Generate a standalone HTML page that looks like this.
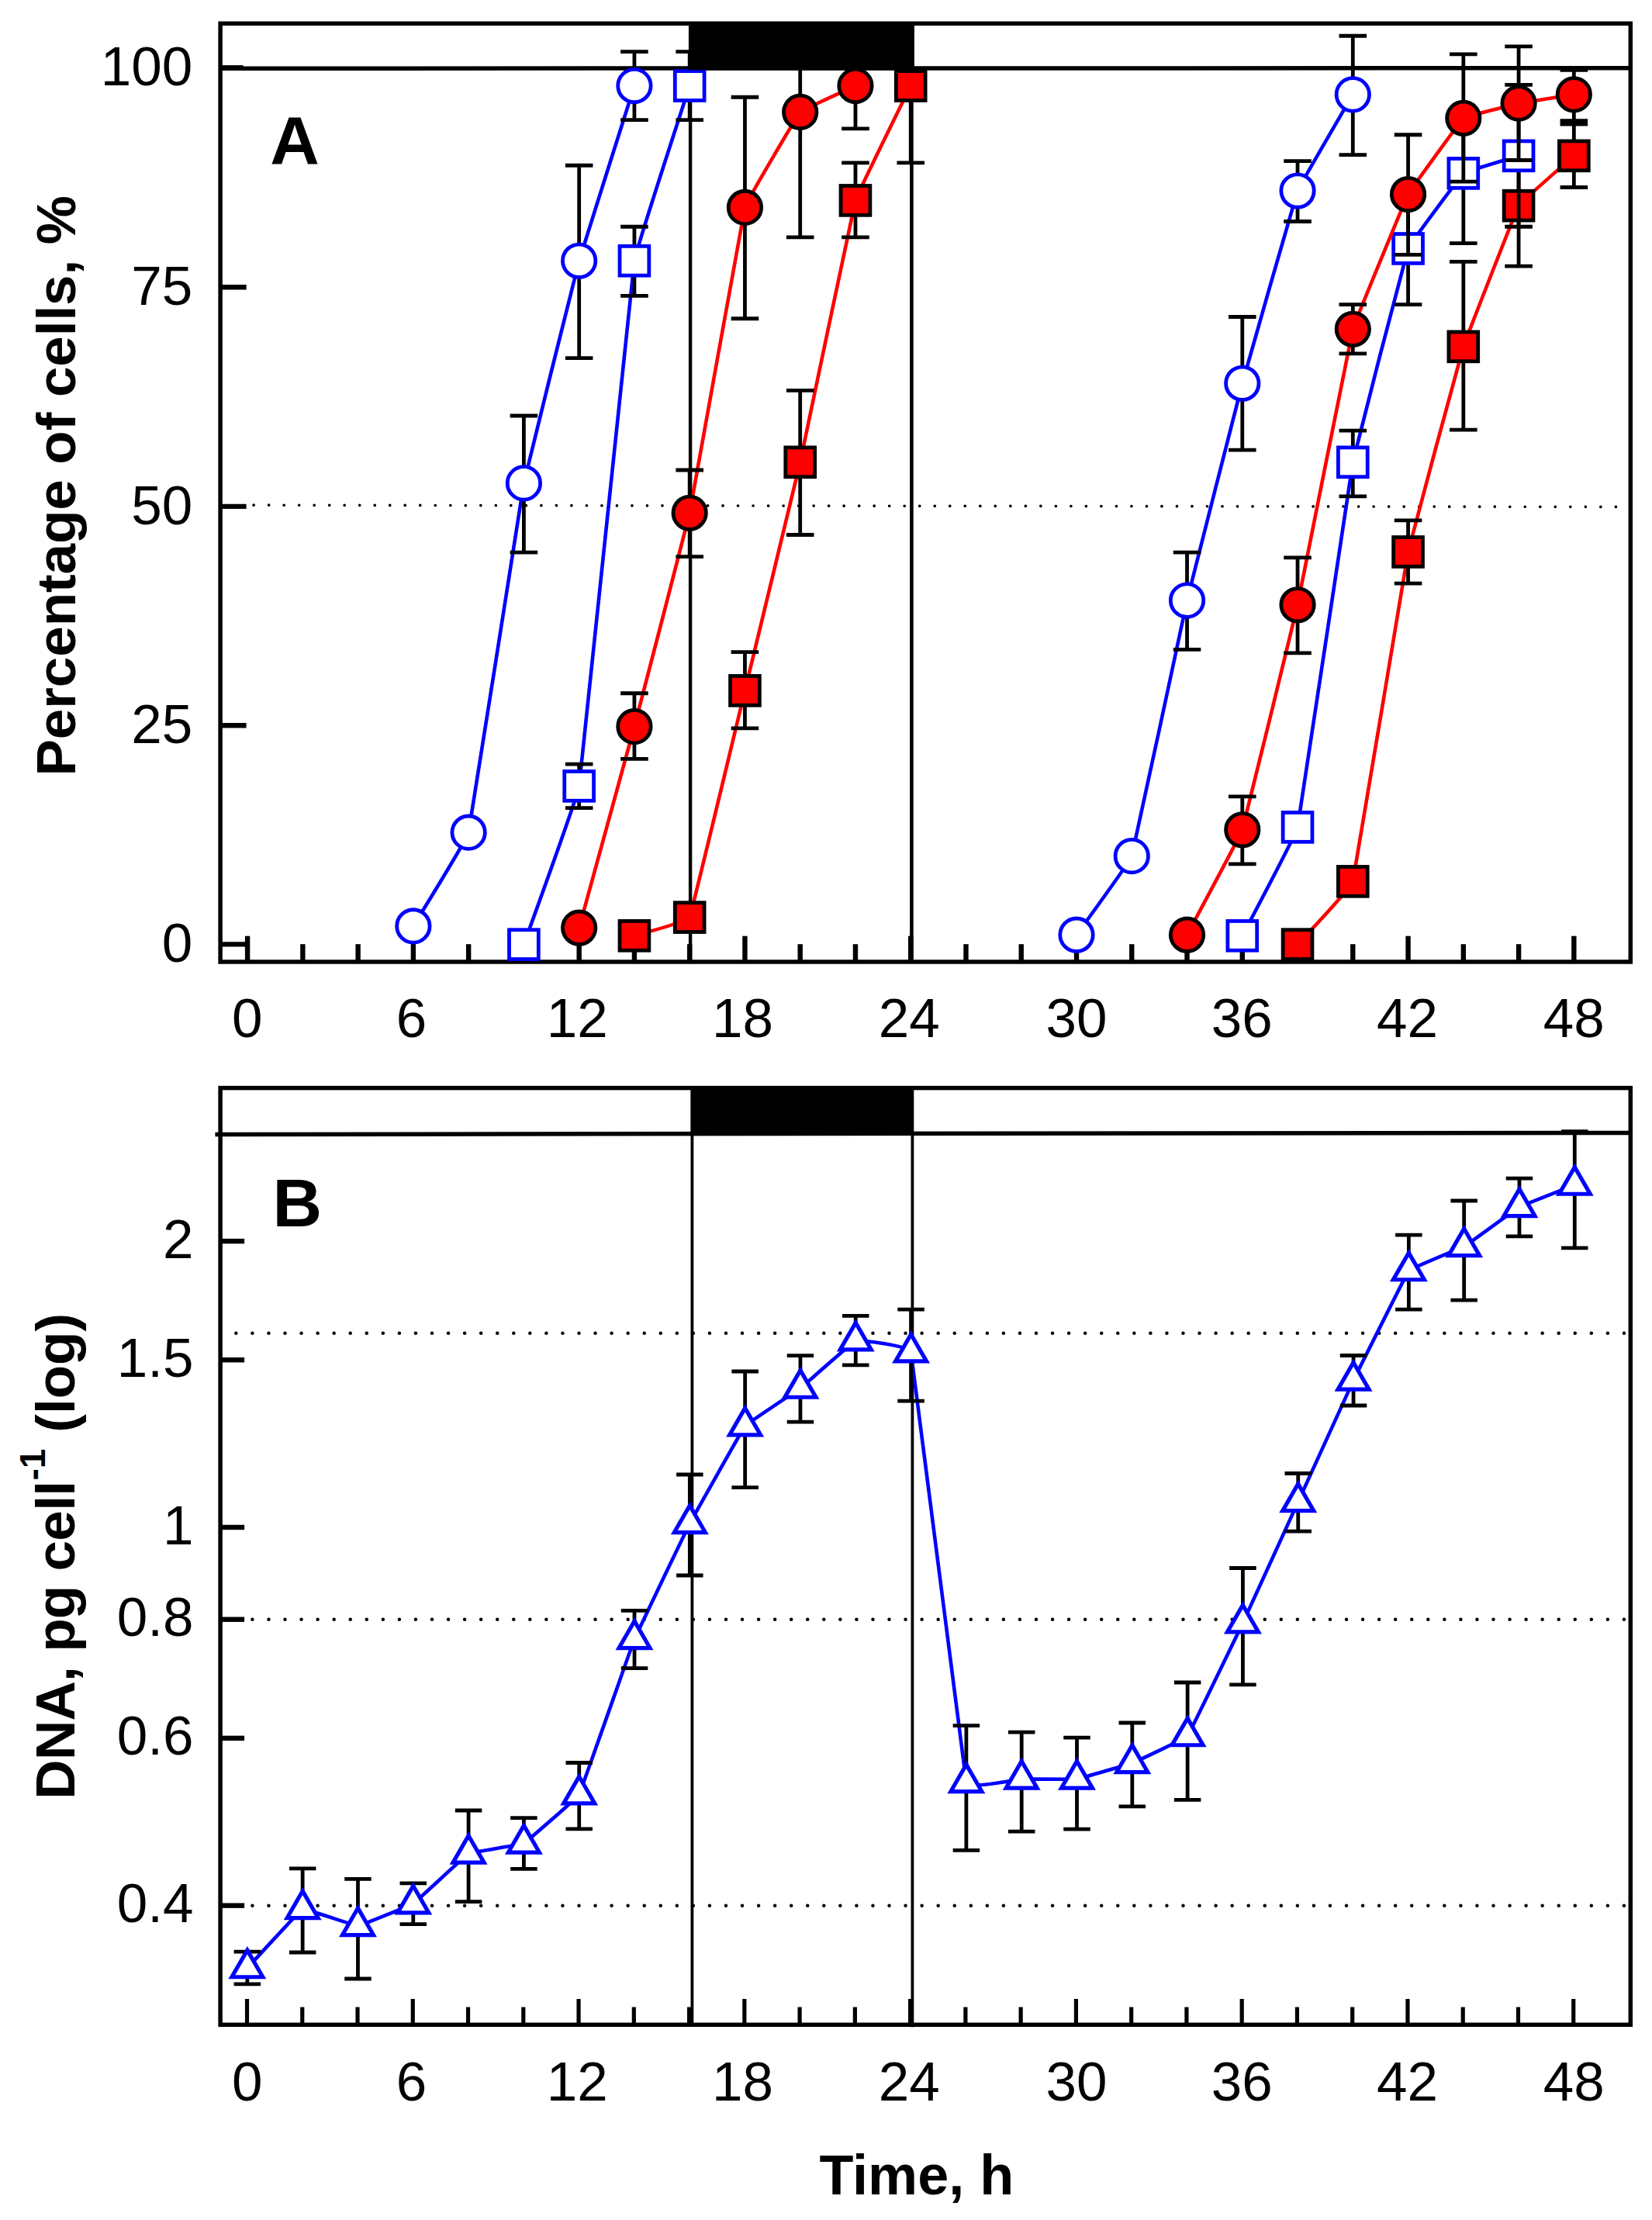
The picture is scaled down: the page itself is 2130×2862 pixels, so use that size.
<!DOCTYPE html>
<html lang="en"><head><meta charset="utf-8"><title>Cell cycle figure</title>
<style>html,body{margin:0;padding:0;background:#fff}body{width:2130px;height:2862px;overflow:hidden}svg{display:block}text{font-family:'Liberation Sans', Arial, Helvetica, sans-serif;fill:#000}</style>
</head><body>
<svg width="2130" height="2862" viewBox="0 0 2130 2862" role="img" aria-label="Cell cycle progression and DNA content over time">
<rect x="0" y="0" width="2130" height="2862" fill="#fff"/>
<defs><clipPath id="clipA"><rect x="284.1" y="30.3" width="1818.2" height="1219.7"/></clipPath></defs>
<g id="panelA">
<line x1="327.1" y1="651.2" x2="2083.5" y2="653.4" stroke="#000" stroke-width="3.7" stroke-linecap="round" stroke-dasharray="0.01 19.504"/>
<line x1="890.1" y1="30.3" x2="890.1" y2="1240" stroke="#000" stroke-width="4.4"/>
<line x1="1175.4" y1="30.3" x2="1175.4" y2="1240" stroke="#000" stroke-width="4.6"/>
<line x1="284.1" y1="88.2" x2="2102.3" y2="87.8" stroke="#000" stroke-width="5.5"/>
<line x1="319.1" y1="1240" x2="319.1" y2="1206.7" stroke="#000" stroke-width="6.4"/>
<line x1="390.36" y1="1240" x2="390.36" y2="1217.2" stroke="#000" stroke-width="6.4"/>
<line x1="461.62" y1="1240" x2="461.62" y2="1217.2" stroke="#000" stroke-width="6.4"/>
<line x1="532.88" y1="1240" x2="532.88" y2="1206.7" stroke="#000" stroke-width="6.4"/>
<line x1="604.14" y1="1240" x2="604.14" y2="1217.2" stroke="#000" stroke-width="6.4"/>
<line x1="675.4" y1="1240" x2="675.4" y2="1217.2" stroke="#000" stroke-width="6.4"/>
<line x1="746.66" y1="1240" x2="746.66" y2="1206.7" stroke="#000" stroke-width="6.4"/>
<line x1="817.92" y1="1240" x2="817.92" y2="1217.2" stroke="#000" stroke-width="6.4"/>
<line x1="889.18" y1="1240" x2="889.18" y2="1217.2" stroke="#000" stroke-width="6.4"/>
<line x1="960.44" y1="1240" x2="960.44" y2="1206.7" stroke="#000" stroke-width="6.4"/>
<line x1="1031.7" y1="1240" x2="1031.7" y2="1217.2" stroke="#000" stroke-width="6.4"/>
<line x1="1102.96" y1="1240" x2="1102.96" y2="1217.2" stroke="#000" stroke-width="6.4"/>
<line x1="1174.22" y1="1240" x2="1174.22" y2="1206.7" stroke="#000" stroke-width="6.4"/>
<line x1="1245.48" y1="1240" x2="1245.48" y2="1217.2" stroke="#000" stroke-width="6.4"/>
<line x1="1316.74" y1="1240" x2="1316.74" y2="1217.2" stroke="#000" stroke-width="6.4"/>
<line x1="1388" y1="1240" x2="1388" y2="1206.7" stroke="#000" stroke-width="6.4"/>
<line x1="1459.26" y1="1240" x2="1459.26" y2="1217.2" stroke="#000" stroke-width="6.4"/>
<line x1="1530.52" y1="1240" x2="1530.52" y2="1217.2" stroke="#000" stroke-width="6.4"/>
<line x1="1601.78" y1="1240" x2="1601.78" y2="1206.7" stroke="#000" stroke-width="6.4"/>
<line x1="1673.04" y1="1240" x2="1673.04" y2="1217.2" stroke="#000" stroke-width="6.4"/>
<line x1="1744.3" y1="1240" x2="1744.3" y2="1217.2" stroke="#000" stroke-width="6.4"/>
<line x1="1815.56" y1="1240" x2="1815.56" y2="1206.7" stroke="#000" stroke-width="6.4"/>
<line x1="1886.82" y1="1240" x2="1886.82" y2="1217.2" stroke="#000" stroke-width="6.4"/>
<line x1="1958.08" y1="1240" x2="1958.08" y2="1217.2" stroke="#000" stroke-width="6.4"/>
<line x1="2029.34" y1="1240" x2="2029.34" y2="1206.7" stroke="#000" stroke-width="6.4"/>
<line x1="284.1" y1="1217.4" x2="317.6" y2="1217.4" stroke="#000" stroke-width="6.4"/>
<line x1="284.1" y1="935.3" x2="317.6" y2="935.3" stroke="#000" stroke-width="6.4"/>
<line x1="284.1" y1="652.9" x2="317.6" y2="652.9" stroke="#000" stroke-width="6.4"/>
<line x1="284.1" y1="370.2" x2="317.6" y2="370.2" stroke="#000" stroke-width="6.4"/>
<line x1="284.1" y1="87.3" x2="313.6" y2="87.3" stroke="#000" stroke-width="6.4"/>
<rect x="284.1" y="30.3" width="1818.2" height="1209.7" fill="none" stroke="#000" stroke-width="5.5"/>
<g clip-path="url(#clipA)">
<path d="M817.92 1206.34 C819.11 1205.95 886.8 1187.91 889.18 1182.64 C891.56 1177.38 958.06 900.14 960.44 890.36 C962.82 880.58 1029.32 606.36 1031.7 595.83 C1034.08 585.29 1100.58 266.49 1102.96 258.4 C1105.34 250.32 1173.03 113.03 1174.22 110.57" stroke="#ff0000" stroke-width="4.6" fill="none"/>
<path d="M960.44 840.71V938.89 M942.64 840.71H978.24 M942.64 938.89H978.24" stroke="#000" stroke-width="4.8" fill="none"/>
<path d="M1031.7 503.29V689.49 M1013.9 503.29H1049.5 M1013.9 689.49H1049.5" stroke="#000" stroke-width="4.8" fill="none"/>
<path d="M1102.96 209.88V305.8 M1085.16 209.88H1120.76 M1085.16 305.8H1120.76" stroke="#000" stroke-width="4.8" fill="none"/>
<path d="M1174.22 11.26V209.88 M1156.42 11.26H1192.02 M1156.42 209.88H1192.02" stroke="#000" stroke-width="4.8" fill="none"/>
<rect x="799.02" y="1187.44" width="37.8" height="37.8" fill="#ff0000" stroke="#000" stroke-width="4.8"/>
<rect x="870.28" y="1163.74" width="37.8" height="37.8" fill="#ff0000" stroke="#000" stroke-width="4.8"/>
<rect x="941.54" y="871.46" width="37.8" height="37.8" fill="#ff0000" stroke="#000" stroke-width="4.8"/>
<rect x="1012.8" y="576.93" width="37.8" height="37.8" fill="#ff0000" stroke="#000" stroke-width="4.8"/>
<rect x="1084.06" y="239.5" width="37.8" height="37.8" fill="#ff0000" stroke="#000" stroke-width="4.8"/>
<rect x="1155.32" y="91.67" width="37.8" height="37.8" fill="#ff0000" stroke="#000" stroke-width="4.8"/>
<path d="M1673.04 1217.63 C1674.23 1216.27 1741.92 1144.81 1744.3 1136.38 C1746.68 1127.94 1813.18 722.99 1815.56 711.5 C1817.94 700 1884.44 454.3 1886.82 446.86 C1889.2 439.42 1955.7 269.27 1958.08 265.17 C1960.46 261.07 2028.15 201.92 2029.34 200.85" stroke="#ff0000" stroke-width="4.6" fill="none"/>
<path d="M1815.56 670.87V752.12 M1797.76 670.87H1833.36 M1797.76 752.12H1833.36" stroke="#000" stroke-width="4.8" fill="none"/>
<path d="M1886.82 337.4V554.07 M1869.02 337.4H1904.62 M1869.02 554.07H1904.62" stroke="#000" stroke-width="4.8" fill="none"/>
<path d="M1958.08 187.31V343.04 M1940.28 187.31H1975.88 M1940.28 343.04H1975.88" stroke="#000" stroke-width="4.8" fill="none"/>
<path d="M2029.34 160.22V241.48 M2011.54 160.22H2047.14 M2011.54 241.48H2047.14" stroke="#000" stroke-width="4.8" fill="none"/>
<rect x="1654.14" y="1198.73" width="37.8" height="37.8" fill="#ff0000" stroke="#000" stroke-width="4.8"/>
<rect x="1725.4" y="1117.48" width="37.8" height="37.8" fill="#ff0000" stroke="#000" stroke-width="4.8"/>
<rect x="1796.66" y="692.6" width="37.8" height="37.8" fill="#ff0000" stroke="#000" stroke-width="4.8"/>
<rect x="1867.92" y="427.96" width="37.8" height="37.8" fill="#ff0000" stroke="#000" stroke-width="4.8"/>
<rect x="1939.18" y="246.27" width="37.8" height="37.8" fill="#ff0000" stroke="#000" stroke-width="4.8"/>
<rect x="2010.44" y="181.95" width="37.8" height="37.8" fill="#ff0000" stroke="#000" stroke-width="4.8"/>
<path d="M532.88 1193.93 C534.07 1191.92 601.76 1082.7 604.14 1073.18 C606.52 1063.66 673.02 635.19 675.4 622.91 C677.78 610.63 744.28 344.81 746.66 336.27 C749.04 327.73 816.73 114.33 817.92 110.57" stroke="#0000ff" stroke-width="4.6" fill="none"/>
<path d="M675.4 536.01V712.06 M657.6 536.01H693.2 M657.6 712.06H693.2" stroke="#000" stroke-width="4.8" fill="none"/>
<path d="M746.66 213.26V461.53 M728.86 213.26H764.46 M728.86 461.53H764.46" stroke="#000" stroke-width="4.8" fill="none"/>
<path d="M817.92 66.56V154.58 M800.12 66.56H835.72 M800.12 154.58H835.72" stroke="#000" stroke-width="4.8" fill="none"/>
<circle cx="532.88" cy="1193.93" r="21.2" fill="#fff" stroke="#0000ff" stroke-width="4.8"/>
<circle cx="604.14" cy="1073.18" r="21.2" fill="#fff" stroke="#0000ff" stroke-width="4.8"/>
<circle cx="675.4" cy="622.91" r="21.2" fill="#fff" stroke="#0000ff" stroke-width="4.8"/>
<circle cx="746.66" cy="336.27" r="21.2" fill="#fff" stroke="#0000ff" stroke-width="4.8"/>
<circle cx="817.92" cy="110.57" r="21.2" fill="#fff" stroke="#0000ff" stroke-width="4.8"/>
<path d="M1388 1205.21 C1389.19 1203.52 1456.88 1110.83 1459.26 1103.65 C1461.64 1096.47 1528.14 784.28 1530.52 774.13 C1532.9 763.97 1599.4 503.06 1601.78 494.26 C1604.16 485.46 1670.66 252.2 1673.04 245.99 C1675.42 239.78 1743.11 123.92 1744.3 121.86" stroke="#0000ff" stroke-width="4.6" fill="none"/>
<path d="M1530.52 712.06V837.32 M1512.72 712.06H1548.32 M1512.72 837.32H1548.32" stroke="#000" stroke-width="4.8" fill="none"/>
<path d="M1601.78 408.49V580.03 M1583.98 408.49H1619.58 M1583.98 580.03H1619.58" stroke="#000" stroke-width="4.8" fill="none"/>
<path d="M1673.04 207.62V285.49 M1655.24 207.62H1690.84 M1655.24 285.49H1690.84" stroke="#000" stroke-width="4.8" fill="none"/>
<path d="M1744.3 46.25V199.72 M1726.5 46.25H1762.1 M1726.5 199.72H1762.1" stroke="#000" stroke-width="4.8" fill="none"/>
<circle cx="1388" cy="1205.21" r="21.2" fill="#fff" stroke="#0000ff" stroke-width="4.8"/>
<circle cx="1459.26" cy="1103.65" r="21.2" fill="#fff" stroke="#0000ff" stroke-width="4.8"/>
<circle cx="1530.52" cy="774.13" r="21.2" fill="#fff" stroke="#0000ff" stroke-width="4.8"/>
<circle cx="1601.78" cy="494.26" r="21.2" fill="#fff" stroke="#0000ff" stroke-width="4.8"/>
<circle cx="1673.04" cy="245.99" r="21.2" fill="#fff" stroke="#0000ff" stroke-width="4.8"/>
<circle cx="1744.3" cy="121.86" r="21.2" fill="#fff" stroke="#0000ff" stroke-width="4.8"/>
<path d="M675.4 1217.63 C676.59 1214.22 744.28 1028.06 746.66 1013.37 C749.04 998.68 815.54 351.32 817.92 336.27 C820.3 321.22 887.99 114.33 889.18 110.57" stroke="#0000ff" stroke-width="4.6" fill="none"/>
<path d="M746.66 985.16V1041.58 M728.86 985.16H764.46 M728.86 1041.58H764.46" stroke="#000" stroke-width="4.8" fill="none"/>
<path d="M817.92 292.26V381.41 M800.12 292.26H835.72 M800.12 381.41H835.72" stroke="#000" stroke-width="4.8" fill="none"/>
<path d="M889.18 66.56V154.58 M871.38 66.56H906.98 M871.38 154.58H906.98" stroke="#000" stroke-width="4.8" fill="none"/>
<rect x="656.5" y="1198.73" width="37.8" height="37.8" fill="#fff" stroke="#0000ff" stroke-width="4.8"/>
<rect x="727.76" y="994.47" width="37.8" height="37.8" fill="#fff" stroke="#0000ff" stroke-width="4.8"/>
<rect x="799.02" y="317.37" width="37.8" height="37.8" fill="#fff" stroke="#0000ff" stroke-width="4.8"/>
<rect x="870.28" y="91.67" width="37.8" height="37.8" fill="#fff" stroke="#0000ff" stroke-width="4.8"/>
<path d="M1601.78 1206.34 C1602.97 1204.01 1670.66 1076.58 1673.04 1066.41 C1675.42 1056.23 1741.92 608.26 1744.3 595.83 C1746.68 583.39 1813.18 326.68 1815.56 320.47 C1817.94 314.26 1884.44 225.41 1886.82 223.42 C1889.2 221.43 1956.89 201.23 1958.08 200.85" stroke="#0000ff" stroke-width="4.6" fill="none"/>
<path d="M1744.3 555.2V639.84 M1726.5 555.2H1762.1 M1726.5 639.84H1762.1" stroke="#000" stroke-width="4.8" fill="none"/>
<path d="M1815.56 249.38V392.69 M1797.76 249.38H1833.36 M1797.76 392.69H1833.36" stroke="#000" stroke-width="4.8" fill="none"/>
<path d="M1886.82 144.42V313.7 M1869.02 144.42H1904.62 M1869.02 313.7H1904.62" stroke="#000" stroke-width="4.8" fill="none"/>
<path d="M1958.08 109.44V292.26 M1940.28 109.44H1975.88 M1940.28 292.26H1975.88" stroke="#000" stroke-width="4.8" fill="none"/>
<rect x="1582.88" y="1187.44" width="37.8" height="37.8" fill="#fff" stroke="#0000ff" stroke-width="4.8"/>
<rect x="1654.14" y="1047.51" width="37.8" height="37.8" fill="#fff" stroke="#0000ff" stroke-width="4.8"/>
<rect x="1725.4" y="576.93" width="37.8" height="37.8" fill="#fff" stroke="#0000ff" stroke-width="4.8"/>
<rect x="1796.66" y="301.57" width="37.8" height="37.8" fill="#fff" stroke="#0000ff" stroke-width="4.8"/>
<rect x="1867.92" y="204.52" width="37.8" height="37.8" fill="#fff" stroke="#0000ff" stroke-width="4.8"/>
<rect x="1939.18" y="181.95" width="37.8" height="37.8" fill="#fff" stroke="#0000ff" stroke-width="4.8"/>
<path d="M746.66 1196.19 C747.85 1191.86 815.54 945.55 817.92 936.63 C820.3 927.72 886.8 672.43 889.18 661.28 C891.56 650.12 958.06 276.05 960.44 267.43 C962.82 258.82 1029.32 147.04 1031.7 144.42 C1034.08 141.81 1101.77 111.13 1102.96 110.57" stroke="#ff0000" stroke-width="4.6" fill="none"/>
<path d="M817.92 893.75V978.39 M800.12 893.75H835.72 M800.12 978.39H835.72" stroke="#000" stroke-width="4.8" fill="none"/>
<path d="M889.18 605.98V717.7 M871.38 605.98H906.98 M871.38 717.7H906.98" stroke="#000" stroke-width="4.8" fill="none"/>
<path d="M960.44 125.24V410.75 M942.64 125.24H978.24 M942.64 410.75H978.24" stroke="#000" stroke-width="4.8" fill="none"/>
<path d="M1031.7 -16.95V305.8 M1013.9 -16.95H1049.5 M1013.9 305.8H1049.5" stroke="#000" stroke-width="4.8" fill="none"/>
<path d="M1102.96 55.27V165.87 M1085.16 55.27H1120.76 M1085.16 165.87H1120.76" stroke="#000" stroke-width="4.8" fill="none"/>
<circle cx="746.66" cy="1196.19" r="21.2" fill="#ff0000" stroke="#000" stroke-width="4.8"/>
<circle cx="817.92" cy="936.63" r="21.2" fill="#ff0000" stroke="#000" stroke-width="4.8"/>
<circle cx="889.18" cy="661.28" r="21.2" fill="#ff0000" stroke="#000" stroke-width="4.8"/>
<circle cx="960.44" cy="267.43" r="21.2" fill="#ff0000" stroke="#000" stroke-width="4.8"/>
<circle cx="1031.7" cy="144.42" r="21.2" fill="#ff0000" stroke="#000" stroke-width="4.8"/>
<circle cx="1102.96" cy="110.57" r="21.2" fill="#ff0000" stroke="#000" stroke-width="4.8"/>
<path d="M1530.52 1205.21 C1531.71 1202.96 1599.4 1076.89 1601.78 1069.8 C1604.16 1062.7 1670.66 790.53 1673.04 779.77 C1675.42 769.01 1741.92 433.11 1744.3 424.29 C1746.68 415.47 1813.18 255.04 1815.56 250.5 C1817.94 245.97 1884.44 154.28 1886.82 152.32 C1889.2 150.37 1955.7 133.65 1958.08 133.14 C1960.46 132.63 2028.15 122.04 2029.34 121.86" stroke="#ff0000" stroke-width="4.6" fill="none"/>
<path d="M1601.78 1026.91V1113.81 M1583.98 1026.91H1619.58 M1583.98 1113.81H1619.58" stroke="#000" stroke-width="4.8" fill="none"/>
<path d="M1673.04 718.83V841.84 M1655.24 718.83H1690.84 M1655.24 841.84H1690.84" stroke="#000" stroke-width="4.8" fill="none"/>
<path d="M1744.3 392.69V455.89 M1726.5 392.69H1762.1 M1726.5 455.89H1762.1" stroke="#000" stroke-width="4.8" fill="none"/>
<path d="M1815.56 173.77V328.37 M1797.76 173.77H1833.36 M1797.76 328.37H1833.36" stroke="#000" stroke-width="4.8" fill="none"/>
<path d="M1886.82 69.94V234.14 M1869.02 69.94H1904.62 M1869.02 234.14H1904.62" stroke="#000" stroke-width="4.8" fill="none"/>
<path d="M1958.08 59.79V206.49 M1940.28 59.79H1975.88 M1940.28 206.49H1975.88" stroke="#000" stroke-width="4.8" fill="none"/>
<path d="M2029.34 90.26V155.71 M2011.54 90.26H2047.14 M2011.54 155.71H2047.14" stroke="#000" stroke-width="4.8" fill="none"/>
<circle cx="1530.52" cy="1205.21" r="21.2" fill="#ff0000" stroke="#000" stroke-width="4.8"/>
<circle cx="1601.78" cy="1069.8" r="21.2" fill="#ff0000" stroke="#000" stroke-width="4.8"/>
<circle cx="1673.04" cy="779.77" r="21.2" fill="#ff0000" stroke="#000" stroke-width="4.8"/>
<circle cx="1744.3" cy="424.29" r="21.2" fill="#ff0000" stroke="#000" stroke-width="4.8"/>
<circle cx="1815.56" cy="250.5" r="21.2" fill="#ff0000" stroke="#000" stroke-width="4.8"/>
<circle cx="1886.82" cy="152.32" r="21.2" fill="#ff0000" stroke="#000" stroke-width="4.8"/>
<circle cx="1958.08" cy="133.14" r="21.2" fill="#ff0000" stroke="#000" stroke-width="4.8"/>
<circle cx="2029.34" cy="121.86" r="21.2" fill="#ff0000" stroke="#000" stroke-width="4.8"/>
</g>
<rect x="888" y="30.3" width="290.9" height="60.1" fill="#000"/>
<text x="318.8" y="1337" font-size="71" text-anchor="middle">0</text>
<text x="530.58" y="1337" font-size="71" text-anchor="middle">6</text>
<text x="744.36" y="1337" font-size="71" text-anchor="middle">12</text>
<text x="957.54" y="1337" font-size="71" text-anchor="middle">18</text>
<text x="1172.22" y="1337" font-size="71" text-anchor="middle">24</text>
<text x="1388" y="1337" font-size="71" text-anchor="middle">30</text>
<text x="1601.18" y="1337" font-size="71" text-anchor="middle">36</text>
<text x="1814.56" y="1337" font-size="71" text-anchor="middle">42</text>
<text x="2029.34" y="1337" font-size="71" text-anchor="middle">48</text>
<text x="248.3" y="1240.4" font-size="71" text-anchor="end">0</text>
<text x="248.3" y="958.3" font-size="71" text-anchor="end">25</text>
<text x="248.3" y="675.9" font-size="71" text-anchor="end">50</text>
<text x="248.3" y="393.2" font-size="71" text-anchor="end">75</text>
<text x="248.3" y="110.3" font-size="71" text-anchor="end">100</text>
<text x="348.3" y="211" font-size="88" font-weight="bold">A</text>
<text transform="translate(97 1000.5) rotate(-90)" font-size="71" font-weight="bold" textLength="748.5" lengthAdjust="spacing">Percentage of cells, %</text>
</g>
<g id="panelB">
<line x1="304.34" y1="1718.87" x2="2098" y2="1718.87" stroke="#000" stroke-width="4.5" stroke-linecap="round" stroke-dasharray="0.01 21.044"/>
<line x1="304.34" y1="2087.75" x2="2098" y2="2087.75" stroke="#000" stroke-width="4.5" stroke-linecap="round" stroke-dasharray="0.01 21.044"/>
<line x1="304.34" y1="2456.64" x2="2098" y2="2456.64" stroke="#000" stroke-width="4.5" stroke-linecap="round" stroke-dasharray="0.01 21.044"/>
<line x1="892.4" y1="1402.6" x2="892.4" y2="2610.3" stroke="#000" stroke-width="3.8"/>
<line x1="1176.4" y1="1402.6" x2="1176.4" y2="2613.3" stroke="#000" stroke-width="3.8"/>
<line x1="277.4" y1="1462.4" x2="2102.3" y2="1460.4" stroke="#000" stroke-width="5.5"/>
<line x1="318.5" y1="2610.3" x2="318.5" y2="2577" stroke="#000" stroke-width="5.2"/>
<line x1="389.76" y1="2610.3" x2="389.76" y2="2587.5" stroke="#000" stroke-width="5.2"/>
<line x1="461.02" y1="2610.3" x2="461.02" y2="2587.5" stroke="#000" stroke-width="5.2"/>
<line x1="532.28" y1="2610.3" x2="532.28" y2="2577" stroke="#000" stroke-width="5.2"/>
<line x1="603.54" y1="2610.3" x2="603.54" y2="2587.5" stroke="#000" stroke-width="5.2"/>
<line x1="674.8" y1="2610.3" x2="674.8" y2="2587.5" stroke="#000" stroke-width="5.2"/>
<line x1="746.06" y1="2610.3" x2="746.06" y2="2577" stroke="#000" stroke-width="5.2"/>
<line x1="817.32" y1="2610.3" x2="817.32" y2="2587.5" stroke="#000" stroke-width="5.2"/>
<line x1="888.58" y1="2610.3" x2="888.58" y2="2587.5" stroke="#000" stroke-width="5.2"/>
<line x1="959.84" y1="2610.3" x2="959.84" y2="2577" stroke="#000" stroke-width="5.2"/>
<line x1="1031.1" y1="2610.3" x2="1031.1" y2="2587.5" stroke="#000" stroke-width="5.2"/>
<line x1="1102.36" y1="2610.3" x2="1102.36" y2="2587.5" stroke="#000" stroke-width="5.2"/>
<line x1="1173.62" y1="2610.3" x2="1173.62" y2="2577" stroke="#000" stroke-width="5.2"/>
<line x1="1244.88" y1="2610.3" x2="1244.88" y2="2587.5" stroke="#000" stroke-width="5.2"/>
<line x1="1316.14" y1="2610.3" x2="1316.14" y2="2587.5" stroke="#000" stroke-width="5.2"/>
<line x1="1387.4" y1="2610.3" x2="1387.4" y2="2577" stroke="#000" stroke-width="5.2"/>
<line x1="1458.66" y1="2610.3" x2="1458.66" y2="2587.5" stroke="#000" stroke-width="5.2"/>
<line x1="1529.92" y1="2610.3" x2="1529.92" y2="2587.5" stroke="#000" stroke-width="5.2"/>
<line x1="1601.18" y1="2610.3" x2="1601.18" y2="2577" stroke="#000" stroke-width="5.2"/>
<line x1="1672.44" y1="2610.3" x2="1672.44" y2="2587.5" stroke="#000" stroke-width="5.2"/>
<line x1="1743.7" y1="2610.3" x2="1743.7" y2="2587.5" stroke="#000" stroke-width="5.2"/>
<line x1="1814.96" y1="2610.3" x2="1814.96" y2="2577" stroke="#000" stroke-width="5.2"/>
<line x1="1886.22" y1="2610.3" x2="1886.22" y2="2587.5" stroke="#000" stroke-width="5.2"/>
<line x1="1957.48" y1="2610.3" x2="1957.48" y2="2587.5" stroke="#000" stroke-width="5.2"/>
<line x1="2028.74" y1="2610.3" x2="2028.74" y2="2577" stroke="#000" stroke-width="5.2"/>
<line x1="284.1" y1="1600.12" x2="315.1" y2="1600.12" stroke="#000" stroke-width="6.4"/>
<line x1="284.1" y1="1753.22" x2="315.1" y2="1753.22" stroke="#000" stroke-width="6.4"/>
<line x1="284.1" y1="1969" x2="315.1" y2="1969" stroke="#000" stroke-width="6.4"/>
<line x1="284.1" y1="2087.75" x2="315.1" y2="2087.75" stroke="#000" stroke-width="6.4"/>
<line x1="284.1" y1="2240.85" x2="315.1" y2="2240.85" stroke="#000" stroke-width="6.4"/>
<line x1="284.1" y1="2456.64" x2="315.1" y2="2456.64" stroke="#000" stroke-width="6.4"/>
<rect x="284.1" y="1402.6" width="1818.2" height="1207.7" fill="none" stroke="#000" stroke-width="5.5"/>
<rect x="890.7" y="1402.6" width="287.1" height="60" fill="#000"/>
<path d="M318.85 2537.2 C320.04 2535.93 387.78 2461.9 390.16 2461 C392.54 2460.1 459.09 2483.11 461.47 2483 C463.85 2482.89 530.4 2455.86 532.78 2454.3 C535.16 2452.74 601.71 2390.9 604.09 2389.6 C606.47 2388.3 673.02 2377.77 675.4 2376.5 C677.78 2375.23 744.33 2317.69 746.71 2313.3 C749.09 2308.91 815.64 2118.82 818.02 2113 C820.4 2107.18 886.95 1968.58 889.33 1964 C891.71 1959.42 958.26 1841.2 960.64 1838.3 C963.02 1835.39 1029.57 1791.53 1031.95 1789.7 C1034.33 1787.87 1100.88 1729.07 1103.26 1728.3 C1105.64 1727.53 1172.19 1733.91 1174.57 1743.4 C1176.95 1752.89 1243.5 2288.83 1245.88 2298 C1248.26 2307.17 1314.81 2293.67 1317.19 2293.6 C1319.57 2293.53 1386.12 2293.94 1388.5 2293.6 C1390.88 2293.26 1457.43 2273.92 1459.81 2273 C1462.19 2272.08 1528.74 2241.21 1531.12 2238.2 C1533.5 2235.19 1600.05 2097.34 1602.43 2092.3 C1604.81 2087.27 1671.36 1941.31 1673.74 1936.1 C1676.12 1930.89 1742.67 1784.56 1745.05 1779.6 C1747.43 1774.63 1813.98 1641.08 1816.36 1638.2 C1818.74 1635.33 1885.29 1608.47 1887.67 1607.1 C1890.05 1605.73 1956.6 1557.32 1958.98 1556 C1961.36 1554.68 2029.1 1528.17 2030.29 1527.7" stroke="#0000ff" stroke-width="4.6" fill="none" stroke-linejoin="round"/>
<path d="M318.85 2516.2V2557.8 M301.6 2516.2H336.1 M301.6 2557.8H336.1" stroke="#000" stroke-width="4.8" fill="none"/>
<path d="M390.16 2408.8V2517 M372.91 2408.8H407.41 M372.91 2517H407.41" stroke="#000" stroke-width="4.8" fill="none"/>
<path d="M461.47 2422.4V2551 M444.22 2422.4H478.72 M444.22 2551H478.72" stroke="#000" stroke-width="4.8" fill="none"/>
<path d="M532.78 2427.8V2480.7 M515.53 2427.8H550.03 M515.53 2480.7H550.03" stroke="#000" stroke-width="4.8" fill="none"/>
<path d="M604.09 2334V2451.7 M586.84 2334H621.34 M586.84 2451.7H621.34" stroke="#000" stroke-width="4.8" fill="none"/>
<path d="M675.4 2343.6V2409.3 M658.15 2343.6H692.65 M658.15 2409.3H692.65" stroke="#000" stroke-width="4.8" fill="none"/>
<path d="M746.71 2272.5V2357.9 M729.46 2272.5H763.96 M729.46 2357.9H763.96" stroke="#000" stroke-width="4.8" fill="none"/>
<path d="M818.02 2076.4V2150.6 M800.77 2076.4H835.27 M800.77 2150.6H835.27" stroke="#000" stroke-width="4.8" fill="none"/>
<path d="M889.33 1901V2031 M872.08 1901H906.58 M872.08 2031H906.58" stroke="#000" stroke-width="4.8" fill="none"/>
<path d="M960.64 1768V1917.6 M943.39 1768H977.89 M943.39 1917.6H977.89" stroke="#000" stroke-width="4.8" fill="none"/>
<path d="M1031.95 1747.7V1833.1 M1014.7 1747.7H1049.2 M1014.7 1833.1H1049.2" stroke="#000" stroke-width="4.8" fill="none"/>
<path d="M1103.26 1696.3V1759.8 M1086.01 1696.3H1120.51 M1086.01 1759.8H1120.51" stroke="#000" stroke-width="4.8" fill="none"/>
<path d="M1174.57 1688.1V1806.2 M1157.32 1688.1H1191.82 M1157.32 1806.2H1191.82" stroke="#000" stroke-width="4.8" fill="none"/>
<path d="M1245.88 2224.6V2385.3 M1228.63 2224.6H1263.13 M1228.63 2385.3H1263.13" stroke="#000" stroke-width="4.8" fill="none"/>
<path d="M1317.19 2233.1V2361.2 M1299.94 2233.1H1334.44 M1299.94 2361.2H1334.44" stroke="#000" stroke-width="4.8" fill="none"/>
<path d="M1388.5 2240.1V2358.1 M1371.25 2240.1H1405.75 M1371.25 2358.1H1405.75" stroke="#000" stroke-width="4.8" fill="none"/>
<path d="M1459.81 2221V2328.8 M1442.56 2221H1477.06 M1442.56 2328.8H1477.06" stroke="#000" stroke-width="4.8" fill="none"/>
<path d="M1531.12 2169V2320.3 M1513.87 2169H1548.37 M1513.87 2320.3H1548.37" stroke="#000" stroke-width="4.8" fill="none"/>
<path d="M1602.43 2021.5V2171.8 M1585.18 2021.5H1619.68 M1585.18 2171.8H1619.68" stroke="#000" stroke-width="4.8" fill="none"/>
<path d="M1673.74 1899.5V1974.2 M1656.49 1899.5H1690.99 M1656.49 1974.2H1690.99" stroke="#000" stroke-width="4.8" fill="none"/>
<path d="M1745.05 1747.5V1812 M1727.8 1747.5H1762.3 M1727.8 1812H1762.3" stroke="#000" stroke-width="4.8" fill="none"/>
<path d="M1816.36 1592.2V1688.1 M1799.11 1592.2H1833.61 M1799.11 1688.1H1833.61" stroke="#000" stroke-width="4.8" fill="none"/>
<path d="M1887.67 1548V1676.1 M1870.42 1548H1904.92 M1870.42 1676.1H1904.92" stroke="#000" stroke-width="4.8" fill="none"/>
<path d="M1958.98 1519.1V1593.9 M1941.73 1519.1H1976.23 M1941.73 1593.9H1976.23" stroke="#000" stroke-width="4.8" fill="none"/>
<path d="M2030.29 1458.7V1608.8 M2013.04 1458.7H2047.54 M2013.04 1608.8H2047.54" stroke="#000" stroke-width="4.8" fill="none"/>
<path d="M318.85 2514.11L338.85 2548.75L298.85 2548.75Z" fill="#fff" stroke="#0000ff" stroke-width="5.2" stroke-linejoin="miter"/>
<path d="M390.16 2437.91L410.16 2472.55L370.16 2472.55Z" fill="#fff" stroke="#0000ff" stroke-width="5.2" stroke-linejoin="miter"/>
<path d="M461.47 2459.91L481.47 2494.55L441.47 2494.55Z" fill="#fff" stroke="#0000ff" stroke-width="5.2" stroke-linejoin="miter"/>
<path d="M532.78 2431.21L552.78 2465.85L512.78 2465.85Z" fill="#fff" stroke="#0000ff" stroke-width="5.2" stroke-linejoin="miter"/>
<path d="M604.09 2366.51L624.09 2401.15L584.09 2401.15Z" fill="#fff" stroke="#0000ff" stroke-width="5.2" stroke-linejoin="miter"/>
<path d="M675.4 2353.41L695.4 2388.05L655.4 2388.05Z" fill="#fff" stroke="#0000ff" stroke-width="5.2" stroke-linejoin="miter"/>
<path d="M746.71 2290.21L766.71 2324.85L726.71 2324.85Z" fill="#fff" stroke="#0000ff" stroke-width="5.2" stroke-linejoin="miter"/>
<path d="M818.02 2089.91L838.02 2124.55L798.02 2124.55Z" fill="#fff" stroke="#0000ff" stroke-width="5.2" stroke-linejoin="miter"/>
<path d="M889.33 1940.91L909.33 1975.55L869.33 1975.55Z" fill="#fff" stroke="#0000ff" stroke-width="5.2" stroke-linejoin="miter"/>
<path d="M960.64 1815.21L980.64 1849.85L940.64 1849.85Z" fill="#fff" stroke="#0000ff" stroke-width="5.2" stroke-linejoin="miter"/>
<path d="M1031.95 1766.61L1051.95 1801.25L1011.95 1801.25Z" fill="#fff" stroke="#0000ff" stroke-width="5.2" stroke-linejoin="miter"/>
<path d="M1103.26 1705.21L1123.26 1739.85L1083.26 1739.85Z" fill="#fff" stroke="#0000ff" stroke-width="5.2" stroke-linejoin="miter"/>
<path d="M1174.57 1720.31L1194.57 1754.95L1154.57 1754.95Z" fill="#fff" stroke="#0000ff" stroke-width="5.2" stroke-linejoin="miter"/>
<path d="M1245.88 2274.91L1265.88 2309.55L1225.88 2309.55Z" fill="#fff" stroke="#0000ff" stroke-width="5.2" stroke-linejoin="miter"/>
<path d="M1317.19 2270.51L1337.19 2305.15L1297.19 2305.15Z" fill="#fff" stroke="#0000ff" stroke-width="5.2" stroke-linejoin="miter"/>
<path d="M1388.5 2270.51L1408.5 2305.15L1368.5 2305.15Z" fill="#fff" stroke="#0000ff" stroke-width="5.2" stroke-linejoin="miter"/>
<path d="M1459.81 2249.91L1479.81 2284.55L1439.81 2284.55Z" fill="#fff" stroke="#0000ff" stroke-width="5.2" stroke-linejoin="miter"/>
<path d="M1531.12 2215.11L1551.12 2249.75L1511.12 2249.75Z" fill="#fff" stroke="#0000ff" stroke-width="5.2" stroke-linejoin="miter"/>
<path d="M1602.43 2069.21L1622.43 2103.85L1582.43 2103.85Z" fill="#fff" stroke="#0000ff" stroke-width="5.2" stroke-linejoin="miter"/>
<path d="M1673.74 1913.01L1693.74 1947.65L1653.74 1947.65Z" fill="#fff" stroke="#0000ff" stroke-width="5.2" stroke-linejoin="miter"/>
<path d="M1745.05 1756.51L1765.05 1791.15L1725.05 1791.15Z" fill="#fff" stroke="#0000ff" stroke-width="5.2" stroke-linejoin="miter"/>
<path d="M1816.36 1615.11L1836.36 1649.75L1796.36 1649.75Z" fill="#fff" stroke="#0000ff" stroke-width="5.2" stroke-linejoin="miter"/>
<path d="M1887.67 1584.01L1907.67 1618.65L1867.67 1618.65Z" fill="#fff" stroke="#0000ff" stroke-width="5.2" stroke-linejoin="miter"/>
<path d="M1958.98 1532.91L1978.98 1567.55L1938.98 1567.55Z" fill="#fff" stroke="#0000ff" stroke-width="5.2" stroke-linejoin="miter"/>
<path d="M2030.29 1504.61L2050.29 1539.25L2010.29 1539.25Z" fill="#fff" stroke="#0000ff" stroke-width="5.2" stroke-linejoin="miter"/>
<text x="318.8" y="2707.8" font-size="71" text-anchor="middle">0</text>
<text x="530.58" y="2707.8" font-size="71" text-anchor="middle">6</text>
<text x="744.36" y="2707.8" font-size="71" text-anchor="middle">12</text>
<text x="957.54" y="2707.8" font-size="71" text-anchor="middle">18</text>
<text x="1172.22" y="2707.8" font-size="71" text-anchor="middle">24</text>
<text x="1388" y="2707.8" font-size="71" text-anchor="middle">30</text>
<text x="1601.18" y="2707.8" font-size="71" text-anchor="middle">36</text>
<text x="1814.56" y="2707.8" font-size="71" text-anchor="middle">42</text>
<text x="2029.34" y="2707.8" font-size="71" text-anchor="middle">48</text>
<text x="249.4" y="1621.62" font-size="71" text-anchor="end">2</text>
<text x="249.4" y="1774.72" font-size="71" text-anchor="end">1.5</text>
<text x="249.4" y="1990.5" font-size="71" text-anchor="end">1</text>
<text x="249.4" y="2109.25" font-size="71" text-anchor="end">0.8</text>
<text x="249.4" y="2262.35" font-size="71" text-anchor="end">0.6</text>
<text x="249.4" y="2478.14" font-size="71" text-anchor="end">0.4</text>
<text x="351.5" y="1581" font-size="88" font-weight="bold">B</text>
<text transform="translate(96.3 2319.7) rotate(-90)" font-size="71" font-weight="bold" textLength="410.6" lengthAdjust="spacing">DNA, pg cell</text>
<text transform="translate(58.3 1908.6) rotate(-90)" font-size="46" font-weight="bold">-1</text>
<text transform="translate(96.3 1846.7) rotate(-90)" font-size="71" font-weight="bold">(log)</text>
<text x="1181.8" y="2829" font-size="72" font-weight="bold" text-anchor="middle">Time, h</text>
</g>
</svg>
</body></html>
